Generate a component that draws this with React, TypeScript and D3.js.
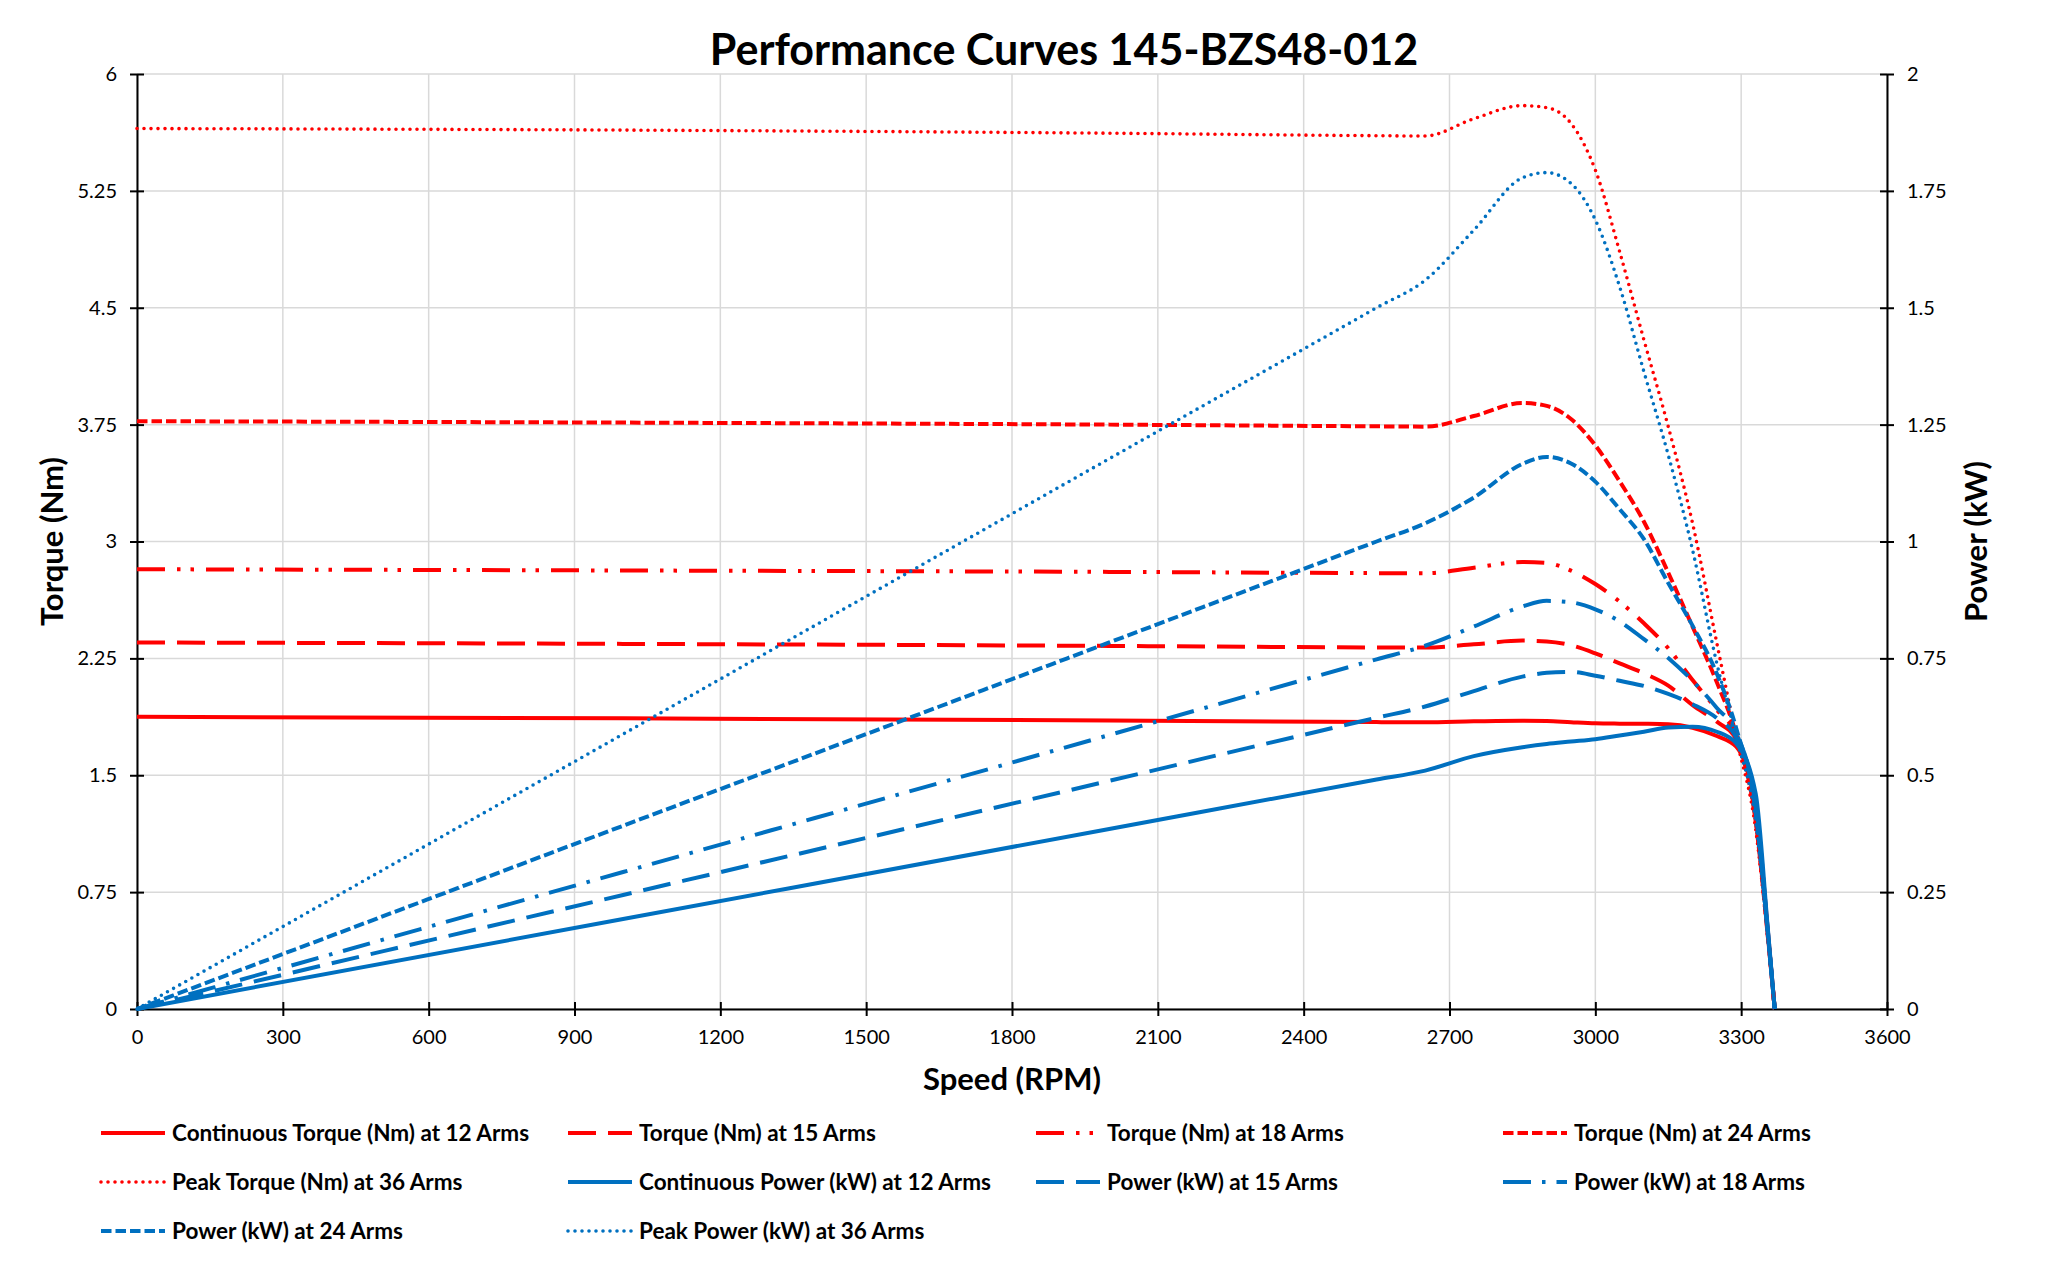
import * as d3 from "d3";
import React, { useEffect, useRef } from "react";

const speed = [0, 1000, 2000, 2550, 2650, 2750, 2850, 2900, 2950, 3000, 3050, 3100, 3150, 3200, 3250, 3290, 3330, 3355, 3369];

// torque (Nm), left axis
const torque12 = [1.875, 1.865, 1.852, 1.841, 1.84, 1.846, 1.85, 1.848, 1.84, 1.833, 1.831, 1.83, 1.827, 1.805, 1.752, 1.683, 1.28, 0.5, 0];
const torque15 = [2.352, 2.343, 2.33, 2.32, 2.319, 2.34, 2.364, 2.359, 2.334, 2.282, 2.218, 2.154, 2.075, 1.95, 1.844, 1.73, 1.24, 0.48, 0];
const torque18 = [2.822, 2.814, 2.805, 2.797, 2.796, 2.832, 2.868, 2.862, 2.813, 2.727, 2.614, 2.475, 2.315, 2.111, 1.92, 1.75, 1.22, 0.47, 0];
const torque24 = [3.772, 3.763, 3.75, 3.739, 3.737, 3.805, 3.889, 3.87, 3.786, 3.617, 3.386, 3.127, 2.8, 2.453, 2.096, 1.76, 1.2, 0.46, 0];
const torque36 = [5.65, 5.64, 5.62, 5.604, 5.602, 5.713, 5.797, 5.784, 5.683, 5.384, 4.86, 4.293, 3.737, 3.117, 2.347, 1.74, 1.15, 0.45, 0];

// power (kW), right axis
const power12 = [0, 0.1925, 0.385, 0.491, 0.51, 0.541, 0.56, 0.567, 0.572, 0.577, 0.585, 0.593, 0.602, 0.604, 0.593, 0.568, 0.46, 0.17, 0];
const power15 = [0, 0.244, 0.488, 0.623, 0.647, 0.68, 0.711, 0.719, 0.721, 0.713, 0.702, 0.691, 0.674, 0.652, 0.622, 0.58, 0.44, 0.165, 0];
const power18 = [0, 0.293, 0.586, 0.748, 0.777, 0.818, 0.861, 0.873, 0.87, 0.855, 0.829, 0.791, 0.751, 0.702, 0.644, 0.59, 0.43, 0.16, 0];
const power24 = [0, 0.392, 0.784, 1.0, 1.039, 1.094, 1.166, 1.181, 1.167, 1.128, 1.069, 1.005, 0.911, 0.82, 0.717, 0.6, 0.42, 0.16, 0];
const power36 = [0, 0.588, 1.177, 1.5, 1.559, 1.666, 1.778, 1.789, 1.766, 1.688, 1.545, 1.363, 1.185, 0.982, 0.739, 0.58, 0.4, 0.15, 0];

const speedTicks = [0, 300, 600, 900, 1200, 1500, 1800, 2100, 2400, 2700, 3000, 3300, 3600];
const torqueTicks = [0, 0.75, 1.5, 2.25, 3, 3.75, 4.5, 5.25, 6];
const powerTicks = [0, 0.25, 0.5, 0.75, 1, 1.25, 1.5, 1.75, 2];

const RED = "#FF0000";
const BLUE = "#0070C0";
const FONT = "Lato, 'Open Sans', sans-serif";

// line styles
const styles: any = {
  solid: { dash: null, width: 4, cap: "butt" },
  longDash: { dash: "28 12", width: 4, cap: "butt" },
  longDashDotDot: { dash: "28 12 3.5 10 3.5 12", width: 4, cap: "butt" },
  longDashDot: { dash: "28 11 3.5 11", width: 4, cap: "butt" },
  dash: { dash: "10.5 4", width: 4, cap: "butt" },
  dot: { dash: "0 7", width: 3.6, cap: "round" },
};

const series = [
  { name: "Continuous Torque (Nm) at 12 Arms", values: torque12, axis: "left", color: RED, style: "solid" },
  { name: "Torque (Nm) at 15 Arms", values: torque15, axis: "left", color: RED, style: "longDash" },
  { name: "Torque (Nm) at 18 Arms", values: torque18, axis: "left", color: RED, style: "longDashDotDot" },
  { name: "Torque (Nm) at 24 Arms", values: torque24, axis: "left", color: RED, style: "dash" },
  { name: "Peak Torque (Nm) at 36 Arms", values: torque36, axis: "left", color: RED, style: "dot" },
  { name: "Continuous Power (kW) at 12 Arms", values: power12, axis: "right", color: BLUE, style: "solid" },
  { name: "Power (kW) at 15 Arms", values: power15, axis: "right", color: BLUE, style: "longDash" },
  { name: "Power (kW) at 18 Arms", values: power18, axis: "right", color: BLUE, style: "longDashDot" },
  { name: "Power (kW) at 24 Arms", values: power24, axis: "right", color: BLUE, style: "dash" },
  { name: "Peak Power (kW) at 36 Arms", values: power36, axis: "right", color: BLUE, style: "dot" },
];

export default function App() {
  const ref = useRef<SVGSVGElement | null>(null);

  useEffect(() => {
    const W = 2048;
    const H = 1286;
    const margin = { top: 74, right: 161, bottom: 277, left: 137 };
    const width = W - margin.left - margin.right;
    const height = H - margin.top - margin.bottom;

    const svg = d3.select(ref.current);
    svg.selectAll("*").remove();
    svg.append("rect").attr("width", W).attr("height", H).attr("fill", "#fff");

    const x = d3.scaleLinear().domain([0, 3600]).range([0, width]);
    const yL = d3.scaleLinear().domain([0, 6]).range([height, 0]);
    const yR = d3.scaleLinear().domain([0, 2]).range([height, 0]);

    const g = svg.append("g").attr("transform", `translate(${margin.left},${margin.top})`);

    // gridlines
    g.append("g")
      .selectAll("line")
      .data(speedTicks)
      .join("line")
      .attr("x1", (d) => x(d))
      .attr("x2", (d) => x(d))
      .attr("y1", 0)
      .attr("y2", height)
      .attr("stroke", "#D9D9D9")
      .attr("stroke-width", 1.5);
    g.append("g")
      .selectAll("line")
      .data(torqueTicks)
      .join("line")
      .attr("x1", 0)
      .attr("x2", width)
      .attr("y1", (d) => yL(d))
      .attr("y2", (d) => yL(d))
      .attr("stroke", "#D9D9D9")
      .attr("stroke-width", 1.5);

    const styleAxis = (sel: any, cross: "x" | "y") => {
      sel.select(".domain").attr("stroke", "#000").attr("stroke-width", 2);
      sel.selectAll(".tick line").attr("stroke", "#000").attr("stroke-width", 2);
      if (cross === "x") sel.selectAll(".tick line").attr("y1", -7).attr("y2", 7);
      else sel.selectAll(".tick line").attr("x1", -7).attr("x2", 7);
      sel.selectAll(".tick text").attr("font-family", FONT).attr("font-size", 20).attr("fill", "#000");
    };

    // axes
    const ax = g
      .append("g")
      .attr("transform", `translate(0,${height})`)
      .call(d3.axisBottom(x).tickValues(speedTicks).tickSize(7).tickSizeOuter(0).tickPadding(14).tickFormat((d: any) => String(d)));
    styleAxis(ax, "x");

    const axL = g
      .append("g")
      .call(d3.axisLeft(yL).tickValues(torqueTicks).tickSize(7).tickSizeOuter(0).tickPadding(13).tickFormat((d: any) => String(d)));
    styleAxis(axL, "y");

    const axR = g
      .append("g")
      .attr("transform", `translate(${width},0)`)
      .call(d3.axisRight(yR).tickValues(powerTicks).tickSize(7).tickSizeOuter(0).tickPadding(13).tickFormat((d: any) => String(d)));
    styleAxis(axR, "y");

    // curves
    series.forEach((s) => {
      const yScale = s.axis === "left" ? yL : yR;
      const st = styles[s.style];
      const line = d3
        .line<number>()
        .x((_, i) => x(speed[i]))
        .y((d) => yScale(d))
        .curve(d3.curveMonotoneX);
      g.append("path")
        .datum(s.values)
        .attr("d", line)
        .attr("fill", "none")
        .attr("stroke", s.color)
        .attr("stroke-width", st.width)
        .attr("stroke-linecap", st.cap)
        .attr("stroke-linejoin", "round")
        .attr("stroke-dasharray", st.dash);
    });

    // titles
    svg
      .append("text")
      .text("Performance Curves 145-BZS48-012")
      .attr("x", 1064)
      .attr("y", 65)
      .attr("text-anchor", "middle")
      .attr("font-family", FONT)
      .attr("font-weight", 700)
      .attr("font-size", 43);

    const axisTitle = (txt: string, transform: string) =>
      svg
        .append("text")
        .text(txt)
        .attr("transform", transform)
        .attr("text-anchor", "middle")
        .attr("font-family", FONT)
        .attr("font-weight", 700)
        .attr("font-size", 31);

    axisTitle("Speed (RPM)", `translate(${margin.left + width / 2},1090)`);
    axisTitle("Torque (Nm)", `translate(63,${margin.top + height / 2}) rotate(-90)`);
    axisTitle("Power (kW)", `translate(1987,${margin.top + height / 2}) rotate(-90)`);

    // legend
    const colX = [101, 568, 1036, 1503];
    const rowY = [1133, 1182, 1231];
    const legend = svg.append("g");
    series.forEach((s, i) => {
      const cx = colX[i % 4];
      const cy = rowY[Math.floor(i / 4)];
      const st = styles[s.style];
      legend
        .append("line")
        .attr("x1", cx)
        .attr("x2", cx + 64)
        .attr("y1", cy)
        .attr("y2", cy)
        .attr("stroke", s.color)
        .attr("stroke-width", st.width)
        .attr("stroke-linecap", st.cap)
        .attr("stroke-dasharray", st.dash);
      legend
        .append("text")
        .text(s.name)
        .attr("x", cx + 71)
        .attr("y", cy + 8)
        .attr("font-family", FONT)
        .attr("font-weight", 700)
        .attr("font-size", 22.5);
    });
  }, []);

  return (
    <svg
      ref={ref}
      width={2048}
      height={1286}
      style={{ position: "absolute", left: 0, top: 0, display: "block" }}
    />
  );
}
